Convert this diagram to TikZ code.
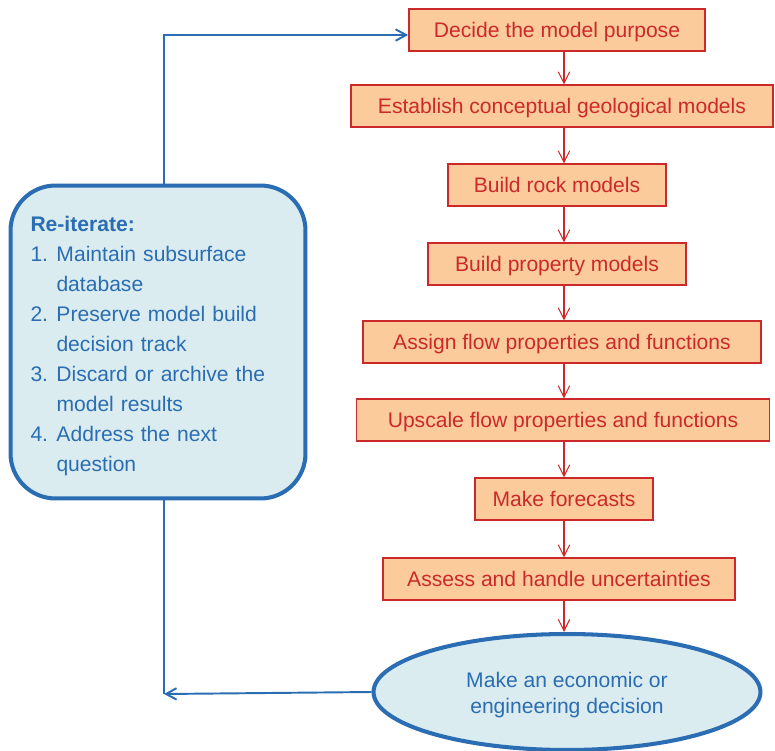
\documentclass[tikz,border=0pt]{standalone}
\usepackage{fontspec}
\setmainfont{Liberation Sans}
\usetikzlibrary{arrows.meta,shapes.geometric}

\definecolor{stagered}{HTML}{CC2A2A}
\definecolor{stagefill}{HTML}{FBCB9B}
\definecolor{loopblue}{HTML}{2A6DB3}
\definecolor{loopfill}{HTML}{DBECF0}

\tikzset{
  stage/.style={draw=stagered, fill=stagefill, line width=1pt, text=stagered,
    minimum height=0.83cm, inner sep=0pt, text height=8.8pt, text depth=0.6pt,
    font=\fontsize{12}{14}\selectfont},
  down/.style={draw=stagered, line width=0.6pt,
    -{Straight Barb[length=6.5pt,width=6.5pt]}},
  back/.style={draw=loopblue, line width=1.1pt},
  backtip/.style={-{Straight Barb[length=6pt,width=6.5pt]}},
}

\begin{document}
\begin{tikzpicture}[x=0.02cm,y=-0.02cm]
        \useasboundingbox (0,0) rectangle (775,751);
        \coordinate (spine) at (564,0);
        \coordinate (up) at (164,35);
        \coordinate (low) at (164,694);

        % modelling steps
        \node[stage, minimum width=5.92cm] (b1) at (557,30) {Decide the model purpose};
        \node[stage, minimum width=8.44cm] (b2) at (562,106) {Establish conceptual geological models};
        \node[stage, minimum width=4.36cm] (b3) at (557,185) {Build rock models};
        \node[stage, minimum width=5.16cm] (b4) at (557,264) {Build property models};
        \node[stage, minimum width=7.96cm] (b5) at (562,342) {Assign flow properties and functions};
        \node[stage, minimum width=8.26cm] (b6) at (563,420) {Upscale flow properties and functions};
        \node[stage, minimum width=3.56cm] (b7) at (564,499) {Make forecasts};
        \node[stage, minimum width=7.04cm] (b8) at (559,579) {Assess and handle uncertainties};

        \node[ellipse, draw=loopblue, fill=loopfill, line width=2.3pt, text=loopblue,
          minimum width=7.74cm, minimum height=2.32cm, align=center,
          font=\fontsize{12}{14.8}\selectfont] (dec) at (567,692)
          {\rule{0pt}{12pt}Make an economic or\\engineering decision};

        % loop-back box
        \node[rounded corners=0.9cm, draw=loopblue, fill=loopfill, line width=2.3pt,
          text=loopblue, minimum width=5.9cm, minimum height=6.26cm, text width=5.1cm,
          inner xsep=0.38cm, align=left, font=\fontsize{12}{17.1}\selectfont] (loop) at (158,342)
          {\rule{0pt}{13.5pt}\textbf{Re-iterate:}\\
           \makebox[0.52cm][l]{1.}Maintain subsurface\\
           \hspace*{0.52cm}database\\
           \makebox[0.52cm][l]{2.}Preserve model build\\
           \hspace*{0.52cm}decision track\\
           \makebox[0.52cm][l]{3.}Discard or archive the\\
           \hspace*{0.52cm}model results\\
           \makebox[0.52cm][l]{4.}Address the next\\
           \hspace*{0.52cm}question};

        % arrows down the chain
        \path[down] (b1.south -| spine) -- (b2.north -| spine);
        \path[down] (b2.south -| spine) -- (b3.north -| spine);
        \path[down] (b3.south -| spine) -- (b4.north -| spine);
        \path[down] (b4.south -| spine) -- (b5.north -| spine);
        \path[down] (b5.south -| spine) -- (b6.north -| spine);
        \path[down] (b6.south -| spine) -- (b7.north -| spine);
        \path[down] (b7.south -| spine) -- (b8.north -| spine);
        \path[down] (b8.south -| spine) -- (dec.north -| spine);

        % feedback loop
        \path[back, backtip] (dec.west) -- (low);
        \path[back] (low) -- (low |- loop.south);
        \path[back, backtip] (loop.north -| up) -- (up) -- (up -| b1.west);
    \end{tikzpicture}
\end{document}
